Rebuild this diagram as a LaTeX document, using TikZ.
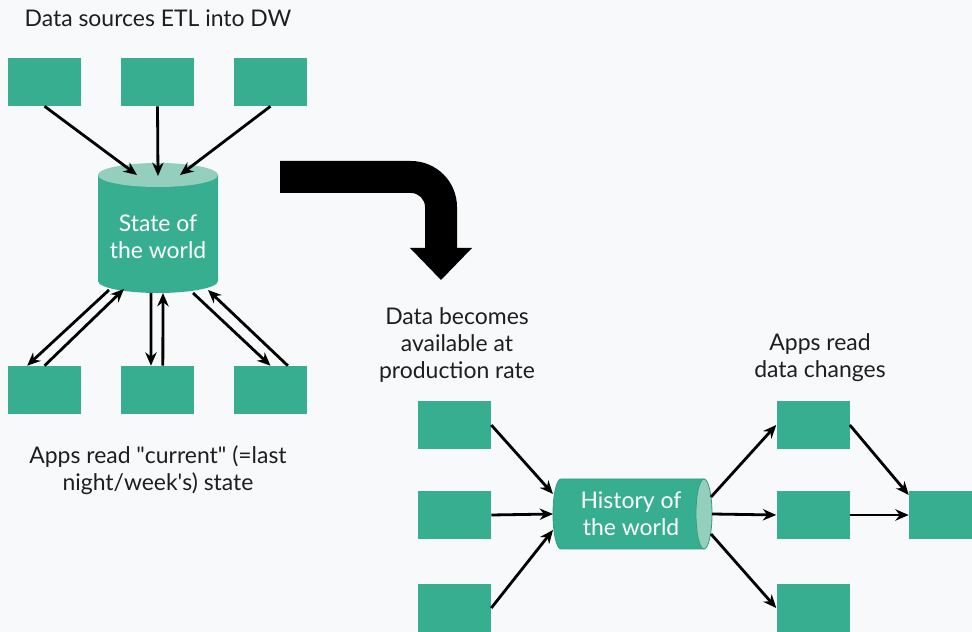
\documentclass[tikz,border=0pt]{standalone}
\usepackage{fontspec}
\setmainfont{Lato}
\usetikzlibrary{arrows.meta}
\definecolor{teal}{HTML}{38AE91}
\definecolor{teallight}{HTML}{93CFBC}
\definecolor{tealedge}{HTML}{2F9F82}
\definecolor{bg}{HTML}{F8F9FB}
\definecolor{ink}{HTML}{1E1E1E}
\tikzset{
  box/.style={fill=teal, draw=none, minimum width=54.75pt, minimum height=36pt, inner sep=0pt},
  conn/.style={draw=black, line width=2.1pt, -{Stealth[length=10pt,width=8.5pt]}},
  label/.style={text=ink, align=center, font=\fontsize{17.2}{20.2}\selectfont},
  dbtext/.style={text=white, align=center, font=\fontsize{17.2}{20.2}\selectfont},
}
\begin{document}
\begin{tikzpicture}[x=0.75pt,y=0.75pt]
\clip (0,0) rectangle (972,632);
\fill[bg] (0,0) rectangle (972,632);

% ---------- left: nightly warehouse ----------
\node[label] (title) at (158,614) {Data sources ETL into DW};
\node[box] (t1) at (44.5,550) {};
\node[box] (t2) at (157.5,550) {};
\node[box] (t3) at (270.5,550) {};

% warehouse cylinder
\fill[teal] (98,457) -- (98,351) arc[start angle=180,end angle=360,x radius=60,y radius=12] -- (218,457) -- cycle;
\fill[teallight] (158,457) ellipse[x radius=60,y radius=12];
\node[dbtext] (sw) at (158,395) {State of\\the world};
\coordinate (swin1) at (137,457);
\coordinate (swin2) at (158,456);
\coordinate (swin3) at (180,457);
\coordinate (swa) at (109,342);
\coordinate (swb) at (124,343);
\coordinate (swc) at (151,339);
\coordinate (swd) at (163,339);
\coordinate (swe) at (193,339);
\coordinate (swf) at (208,342);

\draw[conn] (t1.south) -- (swin1);
\draw[conn] (t2.south) -- (swin2);
\draw[conn] (t3.south) -- (swin3);

\node[box] (b1) at (44.5,242) {};
\node[box] (b2) at (157.5,242) {};
\node[box] (b3) at (270.5,242) {};

\draw[conn] (swa) -- ([xshift=-13pt]b1.north);
\draw[conn] (b1.north) -- (swb);
\draw[conn] (swc) -- ([xshift=-4.9pt]b2.north);
\draw[conn] ([xshift=4pt]b2.north) -- (swd);
\draw[conn] (swe) -- (b3.north);
\draw[conn] ([xshift=13pt]b3.north) -- (swf);

\node[label] (apps1) at (158,162) {Apps read \textquotedbl current\textquotedbl{} (=last\\night/week\textquotesingle s) state};

% ---------- transition arrow ----------
\fill[black] (280,471) -- (411,471) arc[start angle=90,end angle=0,radius=46]
  -- (457,384) -- (472,384) -- (441,352) -- (410,384) -- (425,384)
  -- (425,425) arc[start angle=0,end angle=90,radius=14] -- (280,439) -- cycle;

% ---------- right: streaming log ----------
\node[label] (rate) at (457,287) {Data becomes\\available at\\production rate};
\node[label] (apps2) at (820,274) {Apps read\\data changes};

\node[box] (l1) at (454.5,207) {};
\node[box] (l2) at (454.5,117) {};
\node[box] (l3) at (454.5,24) {};

% history cylinder, lying on its side
\filldraw[fill=teal, draw=tealedge, line width=0.6pt]
  (704,153) -- (561,153) arc[start angle=90,end angle=270,x radius=8,y radius=35] -- (704,83) -- cycle;
\filldraw[fill=teallight, draw=tealedge, line width=0.6pt] (704,118) ellipse[x radius=8,y radius=35];
\node[dbtext] (hw) at (631,118) {History of\\the world};
\coordinate (hwin1) at (553,138);
\coordinate (hwin2) at (553,118);
\coordinate (hwin3) at (553,102);
\coordinate (hwout1) at (711,135);
\coordinate (hwout2) at (712,118);
\coordinate (hwout3) at (711,98);

\draw[conn] (l1.east) -- (hwin1);
\draw[conn] (l2.east) -- (hwin2);
\draw[conn] (l3.east) -- (hwin3);

\node[box] (r1) at (813,207) {};
\node[box] (r2) at (813,117) {};
\node[box] (r3) at (813,24) {};
\node[box] (f) at (945.5,117) {};

\draw[conn] (hwout1) -- (r1.west);
\draw[conn] (hwout2) -- (r2.west);
\draw[conn] (hwout3) -- (r3.west);
\draw[conn] (r1.east) -- ([yshift=15pt]f.west);
\draw[conn] (r2.east) -- (f.west);
\end{tikzpicture}
\end{document}
